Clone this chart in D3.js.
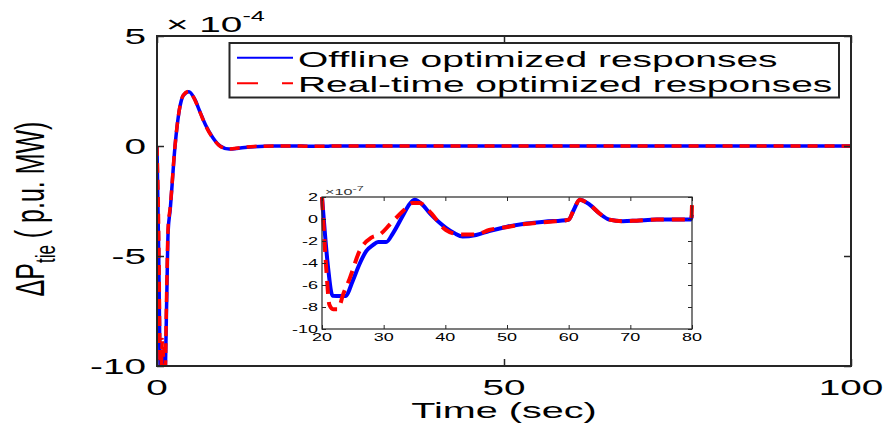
<!DOCTYPE html>
<html><head><meta charset="utf-8">
<script src="https://cdn.jsdelivr.net/npm/d3@7"></script>
<style>html,body{margin:0;padding:0;background:#fff;}svg{display:block;}text{font-family:"Liberation Sans",Arial,Helvetica,sans-serif;fill:#000;}</style>
</head><body>
<script>
// ---- data (main plot: units of 1e-4 p.u. MW) ----
const mainTime      = [0, 0.25, 0.5, 0.8, 1.1, 1.4, 1.6, 1.9, 2.6, 3.2, 3.8, 4.6, 5.4, 6.2, 7.0, 8.0, 9.1, 10.4, 12, 14, 17, 20];
const offlineMain   = [0, -5, -10.5, -9.5, -11, -7, -3.9, -2.9, 0, 1.6, 2.3, 2.47, 2.15, 1.55, 0.95, 0.4, 0, -0.14, -0.09, -0.03, 0, 0];
const realtimeMain  = [0, -4, -10.8, -8.8, -11.2, -6.5, -3.7, -2.8, 0.02, 1.62, 2.32, 2.48, 2.13, 1.53, 0.93, 0.38, -0.01, -0.14, -0.08, -0.02, 0, 0];
// ---- inset data (units of 1e-7 p.u. MW) ----
const insetTimeOff  = [20, 20.5, 21, 21.7, 23, 23.8, 25, 26, 27.2, 28.2, 29.1, 30.4, 31.5, 33.1, 34, 35, 36.3, 37.5, 38.8, 40.1, 41.5, 42.8, 45, 47.1, 50, 52.6, 56, 60, 60.8, 61.8, 63.4, 65, 66.6, 68.8, 71, 74.3, 77, 79.8, 80];
const offlineInset  = [2, -1.5, -4.5, -6.97, -7, -7, -5.6, -4.2, -2.9, -2.4, -2.1, -2.1, -1.3, 0.3, 1.2, 1.76, 1.3, 0.5, -0.2, -0.8, -1.3, -1.6, -1.45, -1.1, -0.7, -0.45, -0.25, -0.06, 0.8, 1.76, 1.3, 0.5, -0.06, -0.2, -0.15, -0.05, -0.05, -0.05, 0.4];
const insetTimeRt   = [20, 20.3, 20.7, 21.2, 21.8, 22.6, 23.4, 24.5, 26.1, 28, 29.4, 31, 33.1, 34.7, 35.8, 37.4, 40.1, 42.3, 45, 47.1, 50.3, 53, 57, 60, 60.8, 61.8, 63.4, 65, 66.6, 68.8, 71, 74.3, 77, 79.9, 80];
const realtimeInset = [2, -1, -4.6, -7.8, -8.2, -8.2, -6.9, -5.4, -2.9, -1.7, -1.4, -0.5, 0.7, 1.45, 1.45, 0.7, -1, -1.4, -1.4, -1, -0.7, -0.45, -0.25, -0.06, 0.8, 1.76, 1.3, 0.5, -0.06, -0.2, -0.15, -0.05, -0.05, -0.05, 1.3];
const endTime = 100;
// ---- ticks / labels ----
const xTicks = [0, 50, 100];
const yTicks = [-10, -5, 0, 5];
const insetXTicks = [20, 30, 40, 50, 60, 70, 80];
const insetYTicks = [-10, -8, -6, -4, -2, 0, 2];
const seriesNames = ["Offline optimized responses", "Real-time optimized responses"];
const xLabel = "Time (sec)";

const W = 894, H = 427, SX = 1.8;
const BLUE = "#0000ff", RED = "#ff0000", AX = "#262626";

const svg = d3.select("body").append("svg").attr("width", W).attr("height", H);

function sText(g, x, y, str, size, anchor, sx) {
  return g.append("text").attr("transform", `translate(${x},${y}) scale(${sx || SX},1)`)
    .attr("text-anchor", anchor || "start").style("font-size", size + "px").text(str);
}

// ---------- main axes ----------
const x = d3.scaleLinear().domain([0, 100]).range([157, 851]);
const y = d3.scaleLinear().domain([-10, 5]).range([366, 36]);

svg.append("clipPath").attr("id", "mclip").append("rect")
  .attr("x", x(0)).attr("y", y(5)).attr("width", x(100) - x(0)).attr("height", y(-10) - y(5));

const mainOff = mainTime.map((t, i) => [t, offlineMain[i]])
  .concat(insetTimeOff.map((t, i) => [t, offlineInset[i] * 1e-3])).concat([[endTime, 0]]);
const mainRt = mainTime.map((t, i) => [t, realtimeMain[i]])
  .concat(insetTimeRt.map((t, i) => [t, realtimeInset[i] * 1e-3])).concat([[endTime, 0]]);

const lineM = d3.line().x(d => x(d[0])).y(d => y(d[1])).curve(d3.curveMonotoneX);
const gm = svg.append("g").attr("clip-path", "url(#mclip)");
gm.append("path").datum(mainOff).attr("d", lineM).attr("fill", "none").attr("stroke", BLUE).attr("stroke-width", 3.5).attr("stroke-linejoin", "round");
gm.append("path").datum(mainRt).attr("d", lineM).attr("fill", "none").attr("stroke", RED).attr("stroke-width", 3.5).attr("stroke-dasharray", "10,7");

function styleAxis(g, w) {
  g.select(".domain").remove();
  g.selectAll(".tick line").attr("stroke", AX).attr("stroke-width", w);
  g.selectAll(".tick text").remove();
}
svg.append("g").attr("transform", `translate(0,${y(-10)})`).call(d3.axisBottom(x).tickValues(xTicks).tickSize(-7)).call(g => styleAxis(g, 1.5));
svg.append("g").attr("transform", `translate(0,${y(5)})`).call(d3.axisTop(x).tickValues(xTicks).tickSize(-7)).call(g => styleAxis(g, 1.5));
svg.append("g").attr("transform", `translate(${x(0)},0)`).call(d3.axisLeft(y).tickValues(yTicks).tickSize(-7)).call(g => styleAxis(g, 1.5));
svg.append("g").attr("transform", `translate(${x(100)},0)`).call(d3.axisRight(y).tickValues(yTicks).tickSize(-7)).call(g => styleAxis(g, 1.5));
svg.append("rect").attr("x", x(0)).attr("y", y(5)).attr("width", x(100) - x(0)).attr("height", y(-10) - y(5))
  .attr("fill", "none").attr("stroke", AX).attr("stroke-width", 2);

xTicks.forEach(t => sText(svg, x(t), 395, String(t), 21.5, "middle"));
yTicks.forEach(t => sText(svg, 146, y(t) + 7.5, String(t), 21.5, "end"));

// exponent
const ex = svg.append("text").attr("transform", `translate(166,32) scale(${SX},1)`).style("font-size", "21.5px");
ex.append("tspan").text("\u00d7 10");
ex.append("tspan").attr("dy", -11).style("font-size", "14px").text("-4");

// axis labels
sText(svg, 504, 418, xLabel, 22, "middle");
const yl = svg.append("text").attr("transform", `translate(44,209) scale(1.6,1) rotate(-90)`)
  .attr("text-anchor", "middle").style("font-size", "25px");
yl.append("tspan").text("\u0394P");
yl.append("tspan").attr("dy", 7).style("font-size", "17px").text("tie");
yl.append("tspan").attr("dy", -7).text(" ( p.u. MW)");

// legend
const lg = svg.append("g");
lg.append("rect").attr("x", 229.5).attr("y", 43).attr("width", 609.5).attr("height", 54.5)
  .attr("fill", "#fff").attr("stroke", AX).attr("stroke-width", 2);
lg.append("line").attr("x1", 237).attr("x2", 293).attr("y1", 57.7).attr("y2", 57.7).attr("stroke", BLUE).attr("stroke-width", 2);
lg.append("line").attr("x1", 237).attr("x2", 293).attr("y1", 83.3).attr("y2", 83.3).attr("stroke", RED).attr("stroke-width", 2).attr("stroke-dasharray", "21,24");
sText(lg, 298, 66.5, seriesNames[0], 22, "start", 1.77);
sText(lg, 298, 92, seriesNames[1], 22, "start", 1.77);

// ---------- inset ----------
const xi = d3.scaleLinear().domain([20, 80]).range([322, 692]);
const yi = d3.scaleLinear().domain([-10, 2]).range([329, 197]);
svg.append("rect").attr("x", xi(20)).attr("y", yi(2)).attr("width", xi(80) - xi(20)).attr("height", yi(-10) - yi(2)).attr("fill", "#fff");
svg.append("clipPath").attr("id", "iclip").append("rect")
  .attr("x", xi(20) - 3).attr("y", yi(2)).attr("width", xi(80) - xi(20) + 6).attr("height", yi(-10) - yi(2));
const lineI = d3.line().x(d => xi(d[0])).y(d => yi(d[1])).curve(d3.curveMonotoneX);
const gi = svg.append("g").attr("clip-path", "url(#iclip)");
gi.append("path").datum(insetTimeOff.map((t, i) => [t, offlineInset[i]])).attr("d", lineI)
  .attr("fill", "none").attr("stroke", BLUE).attr("stroke-width", 4).attr("stroke-linejoin", "round");
gi.append("path").datum(insetTimeRt.map((t, i) => [t, realtimeInset[i]])).attr("d", lineI)
  .attr("fill", "none").attr("stroke", RED).attr("stroke-width", 4).attr("stroke-dasharray", "13,8");

svg.append("g").attr("transform", `translate(0,${yi(-10)})`).call(d3.axisBottom(xi).tickValues(insetXTicks).tickSize(-4)).call(g => styleAxis(g, 1));
svg.append("g").attr("transform", `translate(0,${yi(2)})`).call(d3.axisTop(xi).tickValues(insetXTicks).tickSize(-4)).call(g => styleAxis(g, 1));
svg.append("g").attr("transform", `translate(${xi(20)},0)`).call(d3.axisLeft(yi).tickValues(insetYTicks).tickSize(-4)).call(g => styleAxis(g, 1));
svg.append("g").attr("transform", `translate(${xi(80)},0)`).call(d3.axisRight(yi).tickValues(insetYTicks).tickSize(-4)).call(g => styleAxis(g, 1));
svg.append("rect").attr("x", xi(20)).attr("y", yi(2)).attr("width", xi(80) - xi(20)).attr("height", yi(-10) - yi(2))
  .attr("fill", "none").attr("stroke", AX).attr("stroke-width", 1.2);

insetXTicks.forEach(t => sText(svg, xi(t), 341, String(t), 10, "middle"));
insetYTicks.forEach(t => sText(svg, 318, yi(t) + 3.5, String(t), 10, "end"));
const exi = svg.append("text").attr("transform", `translate(325,195) scale(${SX},1)`).style("font-size", "9px").style("fill", "#333");
exi.append("tspan").text("\u00d710");
exi.append("tspan").attr("dy", -4).style("font-size", "7px").text("-7");
</script>
</body></html>
